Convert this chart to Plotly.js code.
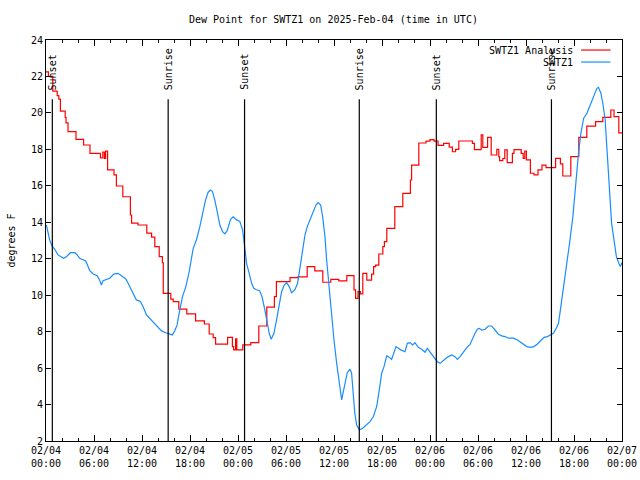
<!DOCTYPE html>
<html>
<head>
<meta charset="utf-8">
<script src="https://cdn.plot.ly/plotly-3.0.1.min.js"></script>
<style>html,body{margin:0;padding:0;background:#fff;}#chart{width:640px;height:480px;}</style>
</head>
<body>
<div id="chart"></div>
<script>
// Hours since 2025-02-04 00:00 UTC
var analysisHours = [0.0,0.3,0.85,1.4,1.6,1.8,2.4,2.5,2.75,3.75,4.7,5.5,6.8,7.1,7.3,7.45,7.7,8.5,8.8,9.6,10.55,10.7,11.5,12.6,13.2,13.6,14.15,14.55,14.66,15.6,15.9,16.6,17.6,18.7,19.8,20.4,20.9,21.2,22.7,23.3,23.45,23.7,23.85,24.6,25.6,26.6,27.6,28.55,28.8,30.5,31.5,32.65,33.6,34.6,35.6,36.6,37.6,38.5,38.7,39.0,39.3,39.6,40.1,40.7,40.95,41.2,41.6,42.1,42.3,42.6,43.6,44.6,45.55,45.7,46.6,47.5,48.0,48.5,49.0,49.7,50.4,50.8,51.2,51.6,53.3,53.55,54.4,54.6,55.2,55.65,56.35,56.6,56.7,57.1,57.35,57.65,58.3,58.5,59.4,59.65,59.85,60.05,60.55,61.0,61.5,62.0,62.5,63.7,64.3,64.6,65.6,66.6,67.6,68.7,69.6,70.6,71.0,71.6,72.0];
var analysisDew = [22.25,22.0,21.2,20.95,20.76,20.1,19.75,19.45,18.97,18.55,18.24,17.78,17.53,17.85,17.5,17.9,16.87,16.6,15.99,15.4,14.4,13.95,13.85,13.4,13.18,12.66,12.11,11.78,10.1,9.78,9.65,9.23,8.97,8.59,8.42,7.87,7.67,7.32,7.69,7.18,7.0,7.6,7.0,7.27,7.4,8.31,9.34,9.92,10.74,10.96,11.0,11.57,11.33,10.71,10.87,10.78,11.07,10.29,9.83,10.19,10.07,11.2,10.83,11.16,11.57,11.65,12.26,12.66,12.94,13.67,14.86,15.59,16.32,17.14,18.35,18.45,18.53,18.45,18.22,18.33,18.12,17.87,18.0,18.46,18.33,17.99,18.79,18.11,18.66,17.69,18.0,17.6,17.38,17.5,17.97,17.27,17.78,17.99,17.78,17.51,17.9,17.42,16.69,16.6,16.87,17.14,17.0,17.51,17.2,16.54,17.6,18.66,19.28,19.52,19.76,20.16,19.8,18.9,18.9];

var stationHours = [0.05,0.25,0.46,0.75,1.09,1.5,1.92,2.2,2.55,3.05,3.6,3.9,4.2,4.6,4.97,5.26,5.47,5.9,6.4,6.7,6.93,7.13,7.55,7.97,8.47,9.0,9.43,9.97,10.26,10.56,10.89,11.3,11.8,12.14,12.56,13.19,13.8,14.44,14.97,15.48,15.8,16.1,16.39,16.64,17.06,17.48,17.9,18.4,18.8,19.23,19.5,19.94,20.27,20.56,20.81,21.1,21.4,21.73,22.07,22.36,22.65,23.07,23.4,23.82,24.23,24.57,24.73,24.86,25.07,25.4,25.7,25.98,26.3,26.7,27.0,27.36,27.65,27.9,28.15,28.49,28.82,29.15,29.45,29.78,30.08,30.4,30.7,31.1,31.45,31.74,32.08,32.37,32.66,32.99,33.4,33.74,34.03,34.33,34.58,34.87,35.08,35.4,35.7,36.0,36.33,36.66,36.96,37.08,37.37,37.66,38.0,38.2,38.4,38.6,38.83,39.16,39.58,40.08,40.5,40.91,41.33,41.66,41.96,42.25,42.59,42.9,43.2,43.75,44.34,44.88,45.16,45.5,45.84,46.12,46.54,46.97,47.38,47.66,48.2,48.63,48.92,49.26,49.6,50.0,50.3,50.72,51.13,51.42,51.76,52.17,52.6,53.0,53.35,53.63,53.92,54.17,54.47,54.89,55.3,55.72,56.13,56.55,56.97,57.39,57.8,58.43,58.93,59.35,59.76,60.1,60.6,61.0,61.43,61.85,62.26,62.68,63.1,63.43,63.8,64.06,64.27,64.6,64.9,65.18,65.5,65.86,66.0,66.27,66.56,66.86,67.2,67.62,68.0,68.4,68.86,69.06,69.36,69.6,69.9,70.1,70.3,70.5,70.7,71.0,71.3,71.6,71.8,72.0];
var stationDew = [13.85,13.4,13.03,12.7,12.52,12.21,12.08,12.02,12.11,12.33,12.33,12.21,12.02,11.93,11.88,11.57,11.35,11.16,11.07,10.83,10.56,10.8,10.87,10.93,11.16,11.2,11.07,10.89,10.65,10.38,10.05,9.74,9.65,9.37,8.92,8.64,8.37,8.04,7.94,7.87,7.82,8.05,8.37,9.0,9.92,10.47,11.29,12.57,13.03,13.76,14.4,15.22,15.65,15.77,15.68,15.22,14.58,13.85,13.48,13.36,13.54,14.16,14.3,14.13,14.05,13.58,13.03,12.48,11.75,11.2,10.65,10.38,10.3,10.25,9.92,9.19,8.55,7.91,7.58,7.91,8.64,9.56,10.19,10.56,10.69,10.47,10.14,10.29,10.65,11.48,12.48,13.3,13.76,14.13,14.49,14.95,15.08,14.95,14.31,13.21,11.93,10.29,8.82,7.54,6.27,5.17,4.25,4.53,5.17,5.75,5.94,5.72,4.62,3.52,2.88,2.61,2.7,2.88,3.06,3.33,3.88,4.8,5.72,6.08,6.67,6.6,6.48,7.18,7.0,6.9,7.36,7.4,7.27,7.4,7.14,7.03,6.87,7.08,6.78,6.54,6.35,6.26,6.41,6.54,6.63,6.72,6.63,6.48,6.63,6.9,7.12,7.3,7.67,7.91,8.13,8.18,8.09,8.13,8.31,8.31,8.09,7.86,7.77,7.73,7.64,7.64,7.54,7.42,7.27,7.18,7.14,7.18,7.32,7.5,7.69,7.73,7.82,7.91,8.2,8.46,9.1,10.1,11.01,11.93,13.03,14.31,15.04,16.14,17.78,18.88,19.7,19.98,20.43,20.89,21.35,21.4,21.08,20.53,19.61,18.15,16.5,15.4,13.94,13.03,12.11,11.75,11.57,11.8];

var sunHours = [0.79, 15.27, 24.82, 39.16, 48.79, 63.18];
var sunLabels = ["Sunset", "Sunrise", "Sunset", "Sunrise", "Sunset", "Sunrise"];

var tickHours = [0,6,12,18,24,30,36,42,48,54,60,66,72];
var tickLabels = ["02/04<br>00:00","02/04<br>06:00","02/04<br>12:00","02/04<br>18:00","02/05<br>00:00","02/05<br>06:00","02/05<br>12:00","02/05<br>18:00","02/06<br>00:00","02/06<br>06:00","02/06<br>12:00","02/06<br>18:00","02/07<br>00:00"];
var seriesNames = ["SWTZ1 Analysis", "SWTZ1"];

var FONT = "DejaVu Sans Mono, Liberation Mono, monospace";
var RED = "#ff0000", BLUE = "#1a8cff";

var traces = [
  {x: analysisHours, y: analysisDew, mode: "lines", line: {color: RED, width: 1.2, shape: "hv"}, name: seriesNames[0], showlegend: false, hoverinfo: "skip"},
  {x: stationHours, y: stationDew, mode: "lines", line: {color: BLUE, width: 1.2}, name: seriesNames[1], showlegend: false, hoverinfo: "skip"}
];

var shapes = [];
var annotations = [];
sunHours.forEach(function (h, i) {
  shapes.push({type: "line", xref: "x", yref: "paper", x0: h, x1: h, y0: 0, y1: 0.852, line: {color: "#000", width: 1.2}});
  annotations.push({xref: "x", yref: "paper", x: h, y: 0.87, text: sunLabels[i], showarrow: false, textangle: -90, xanchor: "center", yanchor: "bottom", font: {family: FONT, size: 10, color: "#000"}});
});
// legend (text right, sample line at right)
var legendColors = [RED, BLUE];
var legendY = [0.975, 0.945];
seriesNames.forEach(function (n, i) {
  annotations.push({xref: "paper", yref: "paper", x: 0.918, y: legendY[i], text: n, showarrow: false, xanchor: "right", yanchor: "middle", font: {family: FONT, size: 10, color: "#000"}});
  shapes.push({type: "line", xref: "paper", yref: "paper", x0: 0.929, x1: 0.980, y0: legendY[i], y1: legendY[i], line: {color: legendColors[i], width: 1.2}});
});

var layout = {
  width: 640, height: 480,
  margin: {l: 46, r: 18, t: 40, b: 39, pad: 0},
  paper_bgcolor: "#fff", plot_bgcolor: "#fff",
  font: {family: FONT, size: 10, color: "#000"},
  title: {text: "Dew Point for SWTZ1 on 2025-Feb-04 (time in UTC)", x: 0.521, xanchor: "center", y: 0.96, yanchor: "middle", font: {family: FONT, size: 10, color: "#000"}},
  showlegend: false,
  xaxis: {
    range: [0, 72], showgrid: false, zeroline: false,
    tickmode: "array", tickvals: tickHours, ticktext: tickLabels,
    ticks: "inside", ticklen: 6, tickcolor: "#000", tickwidth: 1,
    minor: {dtick: 2, tick0: 0, ticks: "inside", ticklen: 3, tickcolor: "#000", showgrid: false},
    showline: true, linecolor: "#000", linewidth: 1, mirror: "allticks",
    tickfont: {family: FONT, size: 10, color: "#000"}
  },
  yaxis: {
    range: [2, 24], dtick: 2, tick0: 2, showgrid: false, zeroline: false,
    ticks: "inside", ticklen: 5, tickcolor: "#000",
    showline: true, linecolor: "#000", linewidth: 1, mirror: "allticks",
    tickfont: {family: FONT, size: 10, color: "#000"},
    title: {text: "degrees F", font: {family: FONT, size: 10, color: "#000"}, standoff: 13}
  },
  shapes: shapes,
  annotations: annotations
};

Plotly.newPlot("chart", traces, layout, {staticPlot: true, displayModeBar: false});
</script>
</body>
</html>
